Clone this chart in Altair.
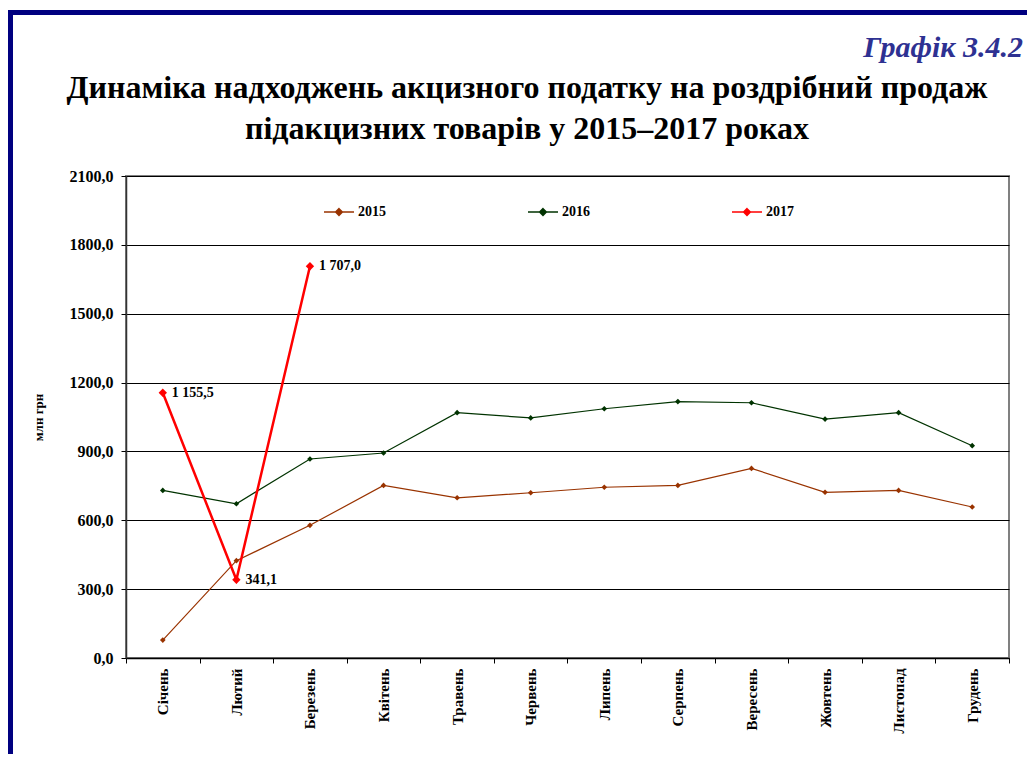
import altair as alt
import pandas as pd

MONTHS = ["Січень", "Лютий", "Березень", "Квітень", "Травень", "Червень",
          "Липень", "Серпень", "Вересень", "Жовтень", "Листопад", "Грудень"]
V2015 = [78, 424, 578, 752, 698, 720, 744, 752, 826, 722, 730, 658]
V2016 = [730, 672, 867, 893, 1069, 1046, 1086, 1117, 1112, 1041, 1069, 925]
V2017 = [1155.5, 341.1, 1707.0]
YEARS = ["2015", "2016", "2017"]
COLORS = ["#993300", "#003300", "#FF0000"]
Y_TICKS = [0, 300, 600, 900, 1200, 1500, 1800, 2100]

TITLE_1 = "Динаміка надходжень акцизного податку на роздрібний продаж"
TITLE_2 = "підакцизних товарів у 2015–2017 роках"
FIG_LABEL = "Графік 3.4.2"
Y_TITLE = "млн грн"

FONT = "Liberation Serif"

rows = []
for yr, vals in zip(YEARS, [V2015, V2016, V2017]):
    for m, v in zip(MONTHS, vals):
        rows.append({"month": m, "year": yr, "value": v})
df = pd.DataFrame(rows)


def fmt(v):
    return f"{v:,.1f}".replace(",", " ").replace(".", ",")


df["label"] = df["value"].map(fmt)

W, H = 883, 482

x_enc = alt.X("month:N", sort=MONTHS,
              scale=alt.Scale(type="band", paddingInner=0, paddingOuter=0),
              axis=alt.Axis(title=None, labelAngle=270, labelAlign="right",
                            labelBaseline="middle", labelFont=FONT,
                            labelFontWeight="bold", labelFontSize=15,
                            labelColor="#000", tickBand="extent", tickSize=5,
                            tickColor="#000", labelPadding=5, domainColor="#000",
                            domainWidth=1.5, grid=False))
y_enc = alt.Y("value:Q", scale=alt.Scale(domain=[0, 2100], nice=False),
              axis=alt.Axis(values=Y_TICKS, title=Y_TITLE, titleFont=FONT,
                            titleFontWeight="bold", titleFontSize=13,
                            titleColor="#000", titlePadding=24,
                            labelExpr="replace(format(datum.value, '.1f'), '.', ',')",
                            labelFont=FONT, labelFontWeight="bold",
                            labelFontSize=16, labelColor="#000", tickSize=5,
                            tickColor="#000", labelPadding=8,
                            domainColor="#333", domainWidth=1.5,
                            grid=True, gridColor="#000", gridWidth=1))

color_scale = alt.Scale(domain=YEARS, range=COLORS)
legend = alt.Legend(title=None, orient="none", legendX=197, legendY=20,
                    direction="horizontal",
                    symbolType="M-1,0H1M0,-0.22L0.22,0L0,0.22L-0.22,0Z",
                    symbolSize=900, symbolStrokeWidth=1.6,
                    labelFont=FONT, labelFontWeight="bold",
                    labelFontSize=14, labelColor="#000",
                    labelOffset=3, columnPadding=138)

base = alt.Chart(df)
old = base.transform_filter(alt.datum.year != "2017")
new = base.transform_filter(alt.datum.year == "2017")

lines_old = old.mark_line(strokeWidth=1.2).encode(
    x=x_enc, y=y_enc,
    color=alt.Color("year:N", scale=color_scale, legend=legend))
lines_new = new.mark_line(strokeWidth=2.5).encode(
    x=x_enc, y=y_enc,
    color=alt.Color("year:N", scale=color_scale, legend=None))
pts_old = old.mark_point(shape="diamond", filled=True, opacity=1, size=32).encode(
    x=x_enc, y=y_enc,
    color=alt.Color("year:N", scale=color_scale, legend=None))
pts_new = new.mark_point(shape="diamond", filled=True, opacity=1, size=70).encode(
    x=x_enc, y=y_enc,
    color=alt.Color("year:N", scale=color_scale, legend=None))

labels = new.mark_text(
    align="left", baseline="middle", dx=9, font=FONT, fontWeight="bold",
    fontSize=14, color="#000").encode(x=x_enc, y=y_enc, text="label:N")

one = pd.DataFrame({"t": [TITLE_1], "t2": [TITLE_2], "f": [FIG_LABEL]})
ob = alt.Chart(one)

title1 = ob.mark_text(font=FONT, fontWeight="bold", fontSize=32, align="center",
                      baseline="alphabetic", color="#000").encode(
    x=alt.value(401), y=alt.value(-78), text="t:N")
title2 = ob.mark_text(font=FONT, fontWeight="bold", fontSize=32, align="center",
                      baseline="alphabetic", color="#000").encode(
    x=alt.value(401), y=alt.value(-37), text="t2:N")
fig = ob.mark_text(font=FONT, fontWeight="bold", fontStyle="italic", fontSize=30,
                   align="right", baseline="alphabetic", color="#2E3192").encode(
    x=alt.value(897), y=alt.value(-119), text="f:N")

border_top = ob.mark_rule(color="#000080", strokeWidth=5).encode(
    x=alt.value(-118), x2=alt.value(910), y=alt.value(-163.5))
border_left = ob.mark_rule(color="#000080", strokeWidth=5).encode(
    x=alt.value(-115.5), y=alt.value(-166), y2=alt.value(600))

chart = alt.layer(lines_old, lines_new, pts_old, pts_new, labels, title1, title2,
                  fig, border_top, border_left).properties(
    width=W, height=H,
    autosize=alt.AutoSizeParams(type="none"),
    padding={"left": 118, "top": 168, "right": 18, "bottom": 96},
    background="#FFFFFF",
).configure_view(stroke="#808080", strokeWidth=2)

chart.save("out.html", embed_options={"renderer": "svg", "actions": False})
